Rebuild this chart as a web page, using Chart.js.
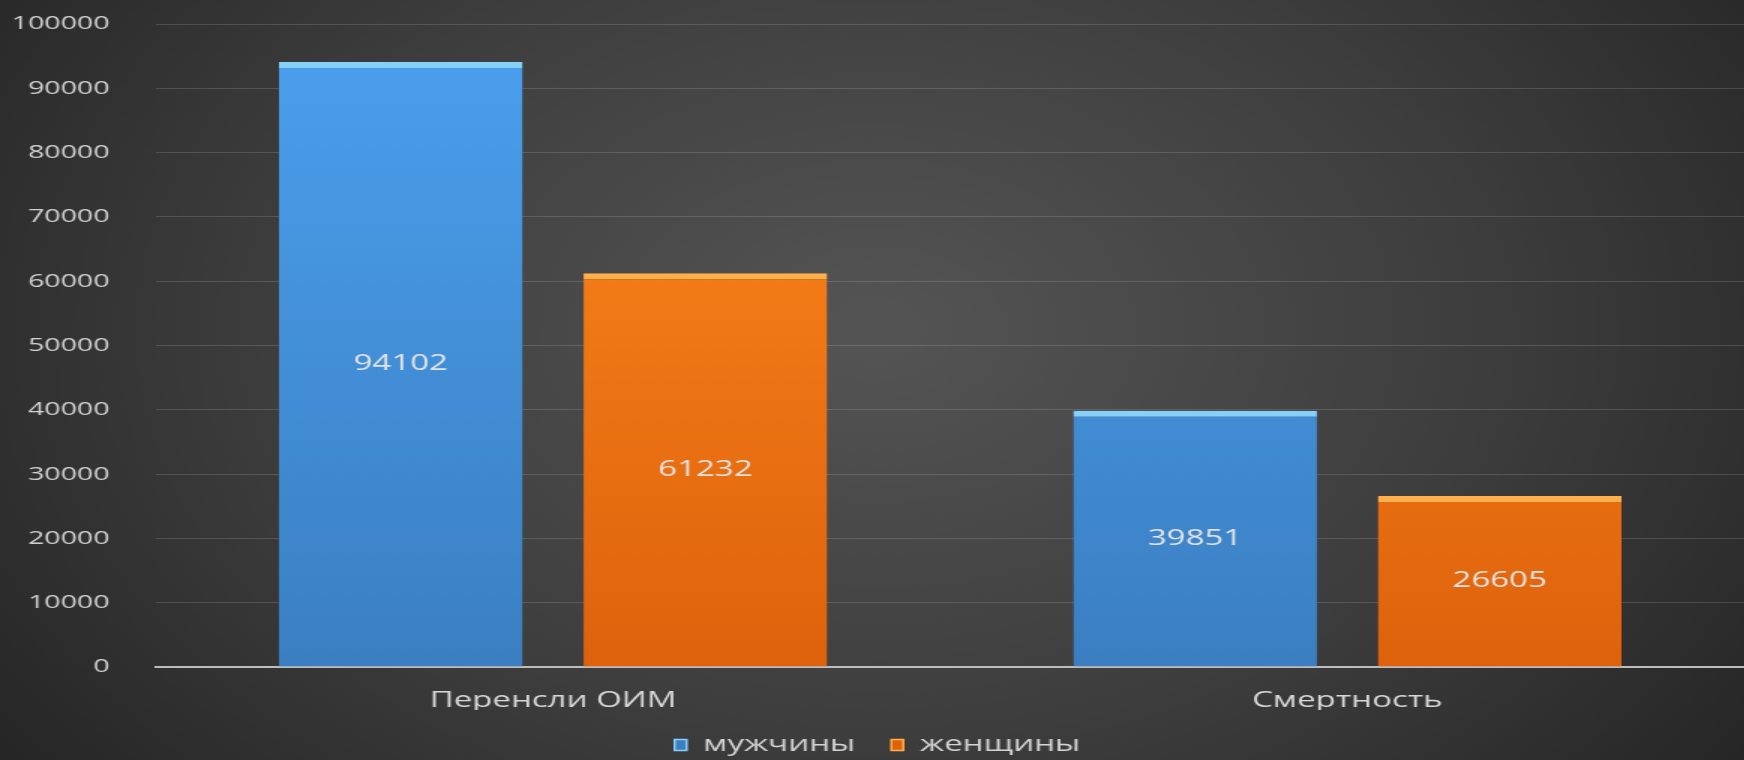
<!DOCTYPE html>
<html lang="ru">
<head>
<meta charset="utf-8" />
<title>ОИМ</title>
<script src="https://cdn.jsdelivr.net/npm/chart.js"></script>
<style>
  html, body { margin: 0; padding: 0; background: #2b2b2b; overflow: hidden; }
  #wrap { width: 1744px; height: 760px; overflow: hidden; }
  /* исходная диаграмма растянута по горизонтали */
  #chart { transform: scaleX(1.5); transform-origin: 0 0; }
</style>
</head>
<body>
<div id="wrap"><canvas id="chart" width="1163" height="760"></canvas></div>
<script>
// данные
const categories = ['Перенсли ОИМ', 'Смертность'];
const men = [94102, 39851];
const women = [61232, 26605];
const seriesNames = ['мужчины', 'женщины'];

const FONT = '"Open Sans", sans-serif';

// вертикальный градиент для столбцов
function barGradient(ctx, top, bottom) {
  const chart = ctx.chart;
  const area = chart.chartArea;
  if (!area) return top;
  const g = chart.ctx.createLinearGradient(0, area.top, 0, area.bottom);
  g.addColorStop(0, top);
  g.addColorStop(1, bottom);
  return g;
}

// фон - радиальный градиент
const backgroundPlugin = {
  id: 'bg',
  beforeDraw(chart) {
    const c = chart.ctx;
    const g = c.createRadialGradient(585, 330, 30, 585, 330, 720);
    g.addColorStop(0, '#535353');
    g.addColorStop(0.55, '#3d3d3d');
    g.addColorStop(1, '#262626');
    c.save();
    c.fillStyle = g;
    c.fillRect(0, 0, chart.width, chart.height);
    c.restore();
  }
};

// подписи значений в середине столбцов
const valueLabels = {
  id: 'valueLabels',
  afterDatasetsDraw(chart) {
    const c = chart.ctx;
    c.save();
    c.font = '22px ' + FONT;
    c.fillStyle = '#e4e4e4';
    c.textAlign = 'center';
    c.textBaseline = 'middle';
    chart.data.datasets.forEach((ds, i) => {
      chart.getDatasetMeta(i).data.forEach((bar, j) => {
        c.fillText(String(ds.data[j]), bar.x, (bar.y + bar.base) / 2);
      });
    });
    c.restore();
  }
};

new Chart(document.getElementById('chart'), {
  type: 'bar',
  data: {
    labels: categories,
    datasets: [
      {
        label: seriesNames[0],
        data: men,
        backgroundColor: ctx => barGradient(ctx, '#4ba0ee', '#3b7fc2'),
        borderColor: '#86d0fa',
        borderWidth: { top: 6, left: 0, right: 0, bottom: 0 },
        borderSkipped: 'bottom'
      },
      {
        label: seriesNames[1],
        data: women,
        backgroundColor: ctx => barGradient(ctx, '#ff8a1e', '#de620c'),
        borderColor: '#ffb04a',
        borderWidth: { top: 6, left: 0, right: 0, bottom: 0 },
        borderSkipped: 'bottom'
      }
    ]
  },
  options: {
    responsive: false,
    animation: false,
    categoryPercentage: 0.767,
    barPercentage: 0.8,
    layout: { padding: { top: 24, right: -7, left: 0, bottom: -6 } },
    plugins: {
      legend: {
        position: 'bottom',
        labels: {
          color: '#d4d4d4',
          font: { family: FONT, size: 22 },
          boxWidth: 8,
          boxHeight: 11,
          padding: 24
        }
      },
      tooltip: { enabled: false }
    },
    scales: {
      x: {
        grid: { display: false, drawTicks: false },
        border: { color: '#bdbdbd', width: 2 },
        ticks: {
          color: '#d8d8d8',
          font: { family: FONT, size: 22 },
          padding: 21
        },
        afterFit(scale) { scale.height = 43; }
      },
      y: {
        min: 0,
        max: 100000,
        ticks: {
          stepSize: 10000,
          color: '#d2d2d2',
          font: { family: FONT, size: 19 },
          padding: 31,
          callback: v => String(v)
        },
        grid: { color: 'rgba(255,255,255,0.14)', drawTicks: false },
        border: { display: false },
        afterFit(scale) {
          scale.width = 104;
          // отступ подписей не должен сдвигать область графика по вертикали
          scale.paddingTop = 0;
          scale.paddingBottom = 0;
        }
      }
    }
  },
  plugins: [backgroundPlugin, valueLabels]
});
</script>
</body>
</html>
